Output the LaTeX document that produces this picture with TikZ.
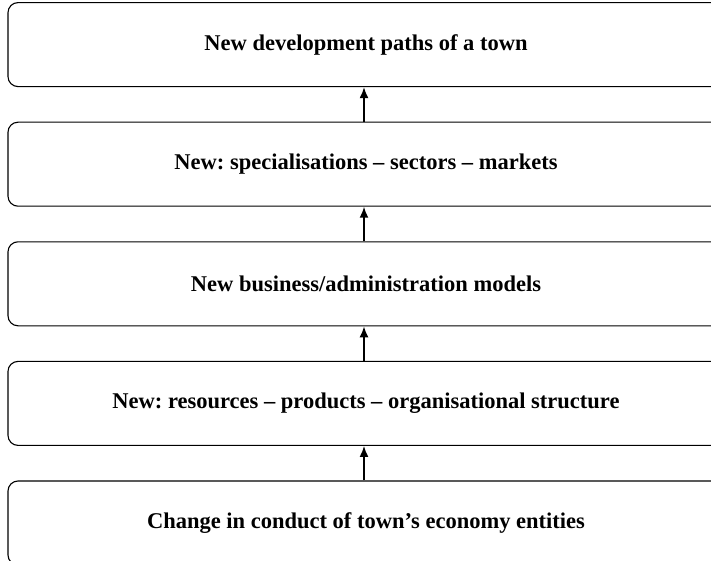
\documentclass[tikz,border=0pt]{standalone}
\usepackage{fontspec}
\setmainfont{Liberation Serif}
\usetikzlibrary{positioning,arrows.meta}
\frenchspacing
\begin{document}
\begin{tikzpicture}
    [x=1pt,y=-1pt,
     stage/.style={draw, line width=1.1pt, rounded corners=10pt,
       minimum width=716pt, minimum height=84pt, inner sep=0pt,
       font=\fontsize{22.5}{26}\selectfont\bfseries},
     lead/.style={->, >={Latex[length=11pt,width=9pt]}, line width=1.6pt}]
    \useasboundingbox (0,0) rectangle (711,561);

    % bottom box first, the rest stacked on top of it
    \node[stage] (conduct) at (366,523) {Change in conduct of town's economy entities};
    \node[stage, above=34.5pt of conduct] (resources) {New: resources -- products -- organisational structure};
    \node[stage, above=34.5pt of resources] (models) {New business/administration models};
    \node[stage, above=34.5pt of models] (markets) {New: specialisations -- sectors -- markets};
    \node[stage, above=34.5pt of markets] (paths) {New development paths of a town};

    \draw[lead] ([xshift=-2pt]conduct.north) -- ([xshift=-2pt]resources.south);
    \draw[lead] ([xshift=-2pt]resources.north) -- ([xshift=-2pt]models.south);
    \draw[lead] ([xshift=-2pt]models.north) -- ([xshift=-2pt]markets.south);
    \draw[lead] ([xshift=-2pt]markets.north) -- ([xshift=-2pt]paths.south);
  \end{tikzpicture}
\end{document}
